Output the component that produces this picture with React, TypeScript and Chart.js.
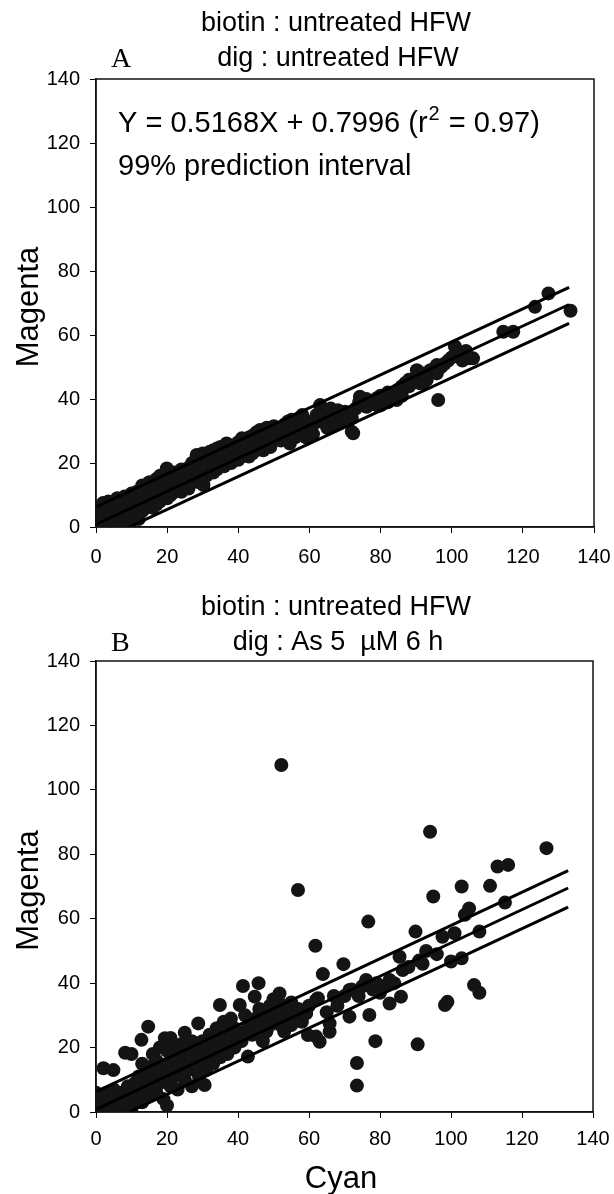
import React, { useEffect, useRef } from 'react';
import Chart from 'chart.js/auto';

const FONT = '"Liberation Sans", Arial, Helvetica, sans-serif';
const SERIF = '"Liberation Serif", "Times New Roman", serif';

const xTicks = [0, 20, 40, 60, 80, 100, 120, 140];
const yTicks = [0, 20, 40, 60, 80, 100, 120, 140];

// regression line and 99% prediction interval (same in both panels)
const fitX = [0, 133];
const fitY = [0.7996, 69.53];
const upperY = [6.3, 74.9];
const lowerY = [-4.8, 63.6];

// Panel A: biotin untreated vs dig untreated  [Cyan, Magenta]
const panelAPoints: [number, number][] = [
  [0, 0], [0, 1], [0, 2], [0, 3], [0.5, 4], [1, 1], [1, 3], [1, 5], [1.5, 0], [2, 2], [2, 4], [2, 6],
  [3, 1], [3, 3], [3, 5], [4, 0], [4, 2], [4, 4], [4, 6], [5, 1], [5, 3], [5, 5], [5, 7], [6, 2],
  [6, 4], [6, 6], [7, 1], [7, 3], [7, 5], [7, 8], [8, 2], [8, 4], [8, 6], [9, 3], [9, 5], [9, 7],
  [9.6, 0], [10, 4], [10, 6], [10, 8], [11, 3], [11, 5], [11, 7], [12, 4], [12, 6], [12, 9], [13, 5],
  [13, 7], [13, 10], [14, 6], [14, 8], [14, 11], [15, 7], [15, 9], [15, 12], [16, 6], [16, 8], [16, 10],
  [17, 7], [17, 9], [17, 12], [18, 8], [18, 10], [19, 9], [19, 12], [20, 9], [20, 11], [19.9, 18.3],
  [21, 10], [21, 13], [22, 11], [22, 14], [23, 12], [24, 11], [24, 14], [25, 13], [25, 15], [26, 12],
  [26, 14], [27, 14], [27, 17], [28, 15], [28, 20], [28.3, 22.5], [29, 14], [29, 17], [30.2, 13.1],
  [30, 16], [30, 21], [31, 16], [31, 19], [32, 17], [32, 21], [33, 17], [33, 19], [34, 18], [34, 22],
  [35, 19], [35, 21], [36, 19], [36.7, 26.1], [37, 20], [37, 23], [38, 20], [38, 22], [39, 21], [40, 21],
  [40, 24], [41, 22], [41, 27.7], [42, 23], [43, 22], [43, 25], [44, 23], [44, 26], [45, 24], [45, 27],
  [46, 25], [46.1, 30.3], [47, 24], [47, 27], [48, 26], [48, 29], [49, 25], [49, 28], [50, 27], [50, 29],
  [51, 28], [52, 27], [53, 29], [54.5, 26.1], [54, 28], [55, 29], [55, 31], [56, 28], [56, 32], [57.3, 31.3],
  [57, 29], [58, 30], [58, 33], [59, 31], [60, 31], [60.6, 32.9], [61, 32], [61, 29], [63, 38.1], [63, 33],
  [64, 33], [65, 34], [66.7, 31.9], [67, 35], [68, 34], [70, 36], [71.9, 34], [71.9, 29.8], [72.3, 29.3],
  [73, 37], [74.2, 40.7], [75, 38], [76.1, 37.6], [77, 39], [78.9, 40.2], [79, 38], [80, 41], [81, 40],
  [82, 42], [83, 41], [84.5, 39.7], [85, 43], [86, 44], [87, 45], [88, 44], [89, 45], [90.2, 49], [91.1, 44.9],
  [92, 45], [94, 49], [95.8, 50.6], [95.8, 48], [96.2, 39.7], [97, 50], [99, 52], [100, 53], [100.9, 56.4],
  [102, 54], [103, 52], [105.1, 52.7], [106, 52.7], [114.5, 61], [117.3, 61], [123.4, 68.8], [127.2, 73],
  [133.4, 67.6],
  [0.5, 6], [2, 7.5], [3.5, 8], [6, 9], [8, 9.5], [10, 10.5], [11.5, 11], [13, 13], [15, 14],
  [17, 15], [18, 16], [20, 14.5], [22, 17], [23, 16], [24, 18], [26, 18.5], [27, 20], [29, 21.5],
  [30, 23], [31, 22.5], [32, 23.5], [33, 24], [34, 24.5], [35, 25], [36, 23.5], [38, 25.5],
  [39, 24], [40, 26.5], [42, 27], [43, 28], [44, 28.5], [45, 29.5], [47, 30], [48, 31],
  [50, 31.5], [51, 30.5], [52, 31], [53, 32], [54, 33], [55, 33.5], [57, 34], [58, 35],
  [59, 28], [62, 35], [64, 36], [65, 31], [66, 37], [68, 36.5], [69, 33], [74, 39], [76, 40],
  [80, 38], [82, 39], [86, 41], [88, 46], [90, 46.5], [92, 48], [93, 46], [98, 51], [101, 54],
  [104, 55], [12, 2.5],
];

// Panel B: biotin untreated vs dig As 5 uM 6 h  [Cyan, Magenta]
const panelBPoints: [number, number][] = [
  [0, 0], [0, 2], [0, 4], [0, 6], [1, 1], [1, 3], [1, 5], [2, 0], [2, 2], [2.1, 13.6], [3, 1], [3, 4],
  [3, 6], [4, 0], [4, 2], [4, 5], [5, 1], [5, 3], [4.9, 13], [5, 7], [6, 0], [6, 2], [6, 4], [7, 1],
  [7, 3], [7, 6], [8, 0], [8, 2], [8, 5], [8.2, 18.4], [9, 1], [9, 3], [9, 8], [10, 0], [10, 2], [10, 5],
  [10, 18], [11, 4], [11, 9], [12, 6], [12, 11], [12.8, 22.4], [13, 3], [13, 8], [13, 15], [14, 7],
  [14, 12], [14.7, 26.5], [15, 5], [15, 10], [15, 14], [16, 8], [16, 13], [16, 18], [17, 6], [17, 11],
  [17, 16], [18, 9], [18, 14], [18, 20], [19, 4], [19, 12], [19.4, 22.9], [20, 2], [20, 10], [20, 15],
  [20, 19], [21, 8], [21, 13], [21, 23], [22, 11], [22, 16], [22, 20], [23, 7], [23, 14], [23, 18],
  [24, 12], [24, 17], [24, 21], [25, 10], [25, 15], [25, 24.6], [26, 13], [26, 19], [27, 8], [27, 16],
  [27, 22], [28, 14], [28, 20], [28.8, 27.5], [29, 11], [29, 18], [30, 15], [30, 22], [30.6, 8.4],
  [31, 13], [31, 20], [32, 17], [32, 24], [33, 15], [33, 21], [34, 19], [34, 26], [34.9, 33.2], [35, 17],
  [35, 23], [36, 20], [36, 28], [37, 18], [37, 25], [38, 22], [38, 29], [39, 20], [39, 26], [40, 24],
  [40.5, 33.2], [41, 22], [41.4, 39.1], [42, 25], [42, 30], [42.8, 17.2], [43, 27], [44, 24], [44.7, 35.8],
  [45, 29], [45.8, 40], [46, 26], [46, 32], [47, 28], [47, 22], [48, 30], [48, 25], [49, 33], [49, 27],
  [50, 29], [50, 35], [51, 31], [51.7, 36.8], [52, 27], [52.2, 107.7], [53, 33], [53, 25], [54, 29],
  [54, 31], [55, 34], [55, 27], [56, 30], [56.9, 68.9], [57, 32], [58, 28], [59.2, 30.6], [59.7, 23.9],
  [60, 33], [61.8, 51.6], [62, 34.8], [62, 23.4], [62.5, 35.3], [63, 21.8], [63.9, 42.8], [65, 31],
  [65.8, 24.9], [65.8, 27.5], [67, 36], [68, 33], [69.7, 45.9], [70, 36], [71.4, 37.9], [71.4, 29.6],
  [72, 38], [73.5, 15.2], [73.5, 8.2], [74, 36], [75, 39], [76.1, 41], [76.7, 59.1], [77, 30.1], [78, 38],
  [78.7, 22], [79, 40], [80, 37], [81, 39], [82.7, 41], [82.7, 33.7], [84, 40], [85.5, 48.2], [85.9, 35.8],
  [86.4, 44.1], [88, 45], [90, 56], [90.6, 21], [91, 47], [92, 46], [93, 50], [94.1, 87], [95, 66.9],
  [96, 49], [97.6, 54.4], [98.3, 33.2], [99, 34.2], [100, 46.7], [101, 55.5], [103, 70], [103, 47.7],
  [103.9, 61.2], [105.1, 63.2], [106.5, 39.4], [108, 37], [108, 56], [111, 70.2], [113.1, 76.2],
  [115.2, 65], [116.1, 76.7], [126.9, 81.9],
];

type PanelText = {
  letter: string;
  title1: string;
  title2: string;
  equation: boolean;
  cyan: boolean;
};

const panelAText: PanelText = {
  letter: 'A',
  title1: 'biotin : untreated HFW',
  title2: 'dig : untreated HFW',
  equation: true,
  cyan: false,
};
const panelBText: PanelText = {
  letter: 'B',
  title1: 'biotin : untreated HFW',
  title2: 'dig : As 5  \u00b5M 6 h',
  equation: false,
  cyan: true,
};

function makeDecor(t: PanelText) {
  return {
    id: 'decor' + t.letter,
    afterDraw(chart: any) {
      const { ctx, chartArea } = chart;
      const { left, right, top, bottom } = chartArea;
      ctx.save();
      ctx.strokeStyle = '#111';
      ctx.lineWidth = 1.5;
      ctx.strokeRect(left, top, right - left, bottom - top);
      ctx.fillStyle = '#000';
      ctx.textBaseline = 'alphabetic';
      const gap1 = t.equation ? 48 : 46;
      const gap2 = t.equation ? 13 : 11;
      ctx.font = `27px ${FONT}`;
      ctx.textAlign = 'center';
      ctx.fillText(t.title1, 336, top - gap1);
      ctx.fillText(t.title2, 338, top - gap2);
      ctx.font = `28px ${SERIF}`;
      ctx.textAlign = 'left';
      ctx.fillText(t.letter, left + 15, top - gap2 + 1);
      if (t.equation) {
        ctx.font = `29px ${FONT}`;
        let x = left + 22;
        const yb = top + 53;
        const s1 = 'Y = 0.5168X + 0.7996 (r';
        ctx.fillText(s1, x, yb);
        x += ctx.measureText(s1).width + 1;
        ctx.font = `20px ${FONT}`;
        ctx.fillText('2', x, yb - 12);
        x += ctx.measureText('2').width + 1;
        ctx.font = `29px ${FONT}`;
        ctx.fillText(' = 0.97)', x, yb);
        ctx.fillText('99% prediction interval', left + 22, top + 96);
      }
      ctx.font = `31px ${FONT}`;
      ctx.save();
      ctx.translate(38, (top + bottom) / 2 + 4);
      ctx.rotate(-Math.PI / 2);
      ctx.textAlign = 'center';
      ctx.fillText('Magenta', 0, 0);
      ctx.restore();
      if (t.cyan) {
        ctx.textAlign = 'center';
        ctx.fillText('Cyan', 341, bottom + 76);
      }
      ctx.restore();
    },
  };
}

function buildConfig(points: [number, number][], t: PanelText, pad: any, tickPad: number): any {
  const axisCommon = {
    type: 'linear',
    min: 0,
    max: 140,
    grid: {
      drawOnChartArea: false,
      drawTicks: true,
      tickLength: 6,
      color: '#000',
      lineWidth: 1,
    },
    border: { display: true, color: '#111', width: 1.5 },
  };
  const lineDs = (ys: number[]) => ({
    type: 'line',
    data: fitX.map((x, i) => ({ x, y: ys[i] })),
    borderColor: '#000',
    borderWidth: 3,
    pointRadius: 0,
    fill: false,
    order: 1,
  });
  return {
    type: 'scatter',
    data: {
      datasets: [
        {
          type: 'scatter',
          data: points.map(([x, y]) => ({ x, y })),
          pointRadius: 7,
          pointHoverRadius: 7,
          pointBackgroundColor: '#141414',
          pointBorderWidth: 0,
          order: 2,
        },
        lineDs(upperY),
        lineDs(fitY),
        lineDs(lowerY),
      ],
    },
    options: {
      responsive: false,
      animation: false,
      devicePixelRatio: 1,
      layout: { padding: pad },
      plugins: {
        legend: { display: false },
        tooltip: { enabled: false },
        title: { display: false },
      },
      scales: {
        x: {
          ...axisCommon,
          position: 'bottom',
          afterBuildTicks: (s: any) => {
            s.ticks = xTicks.map((v) => ({ value: v }));
          },
          ticks: {
            font: { size: 20, family: FONT },
            color: '#000',
            padding: tickPad,
            maxRotation: 0,
            autoSkip: false,
          },
          afterFit: (s: any) => {
            s.height = 40;
            s.paddingLeft = 0;
            s.paddingRight = 0;
            s.paddingTop = 0;
            s.paddingBottom = 0;
          },
        },
        y: {
          ...axisCommon,
          position: 'left',
          afterBuildTicks: (s: any) => {
            s.ticks = yTicks.map((v) => ({ value: v }));
          },
          ticks: {
            font: { size: 20, family: FONT },
            color: '#000',
            padding: 10,
            autoSkip: false,
          },
          afterFit: (s: any) => {
            s.width = 96;
            s.paddingLeft = 0;
            s.paddingRight = 0;
            s.paddingTop = 0;
            s.paddingBottom = 0;
          },
        },
      },
    },
    plugins: [makeDecor(t)],
  };
}

function Panel(props: {
  points: [number, number][];
  text: PanelText;
  top: number;
  height: number;
  pad: any;
  tickPad: number;
}) {
  const ref = useRef<HTMLCanvasElement | null>(null);
  useEffect(() => {
    if (!ref.current) return;
    const chart = new Chart(ref.current, buildConfig(props.points, props.text, props.pad, props.tickPad));
    return () => chart.destroy();
  }, []);
  return (
    <canvas
      ref={ref}
      width={614}
      height={props.height}
      style={{ position: 'absolute', left: 0, top: props.top, width: 614, height: props.height, display: 'block' }}
    />
  );
}

export default function App() {
  return (
    <div style={{ position: 'absolute', left: 0, top: 0, width: 614, height: 1194, background: '#fff', overflow: 'hidden' }}>
      <Panel
        points={panelAPoints}
        text={panelAText}
        top={0}
        height={580}
        pad={{ left: 0, right: 20, top: 79, bottom: 13 }}
        tickPad={12}
      />
      <Panel
        points={panelBPoints}
        text={panelBText}
        top={580}
        height={614}
        pad={{ left: 0, right: 21, top: 81, bottom: 42 }}
        tickPad={9}
      />
    </div>
  );
}
